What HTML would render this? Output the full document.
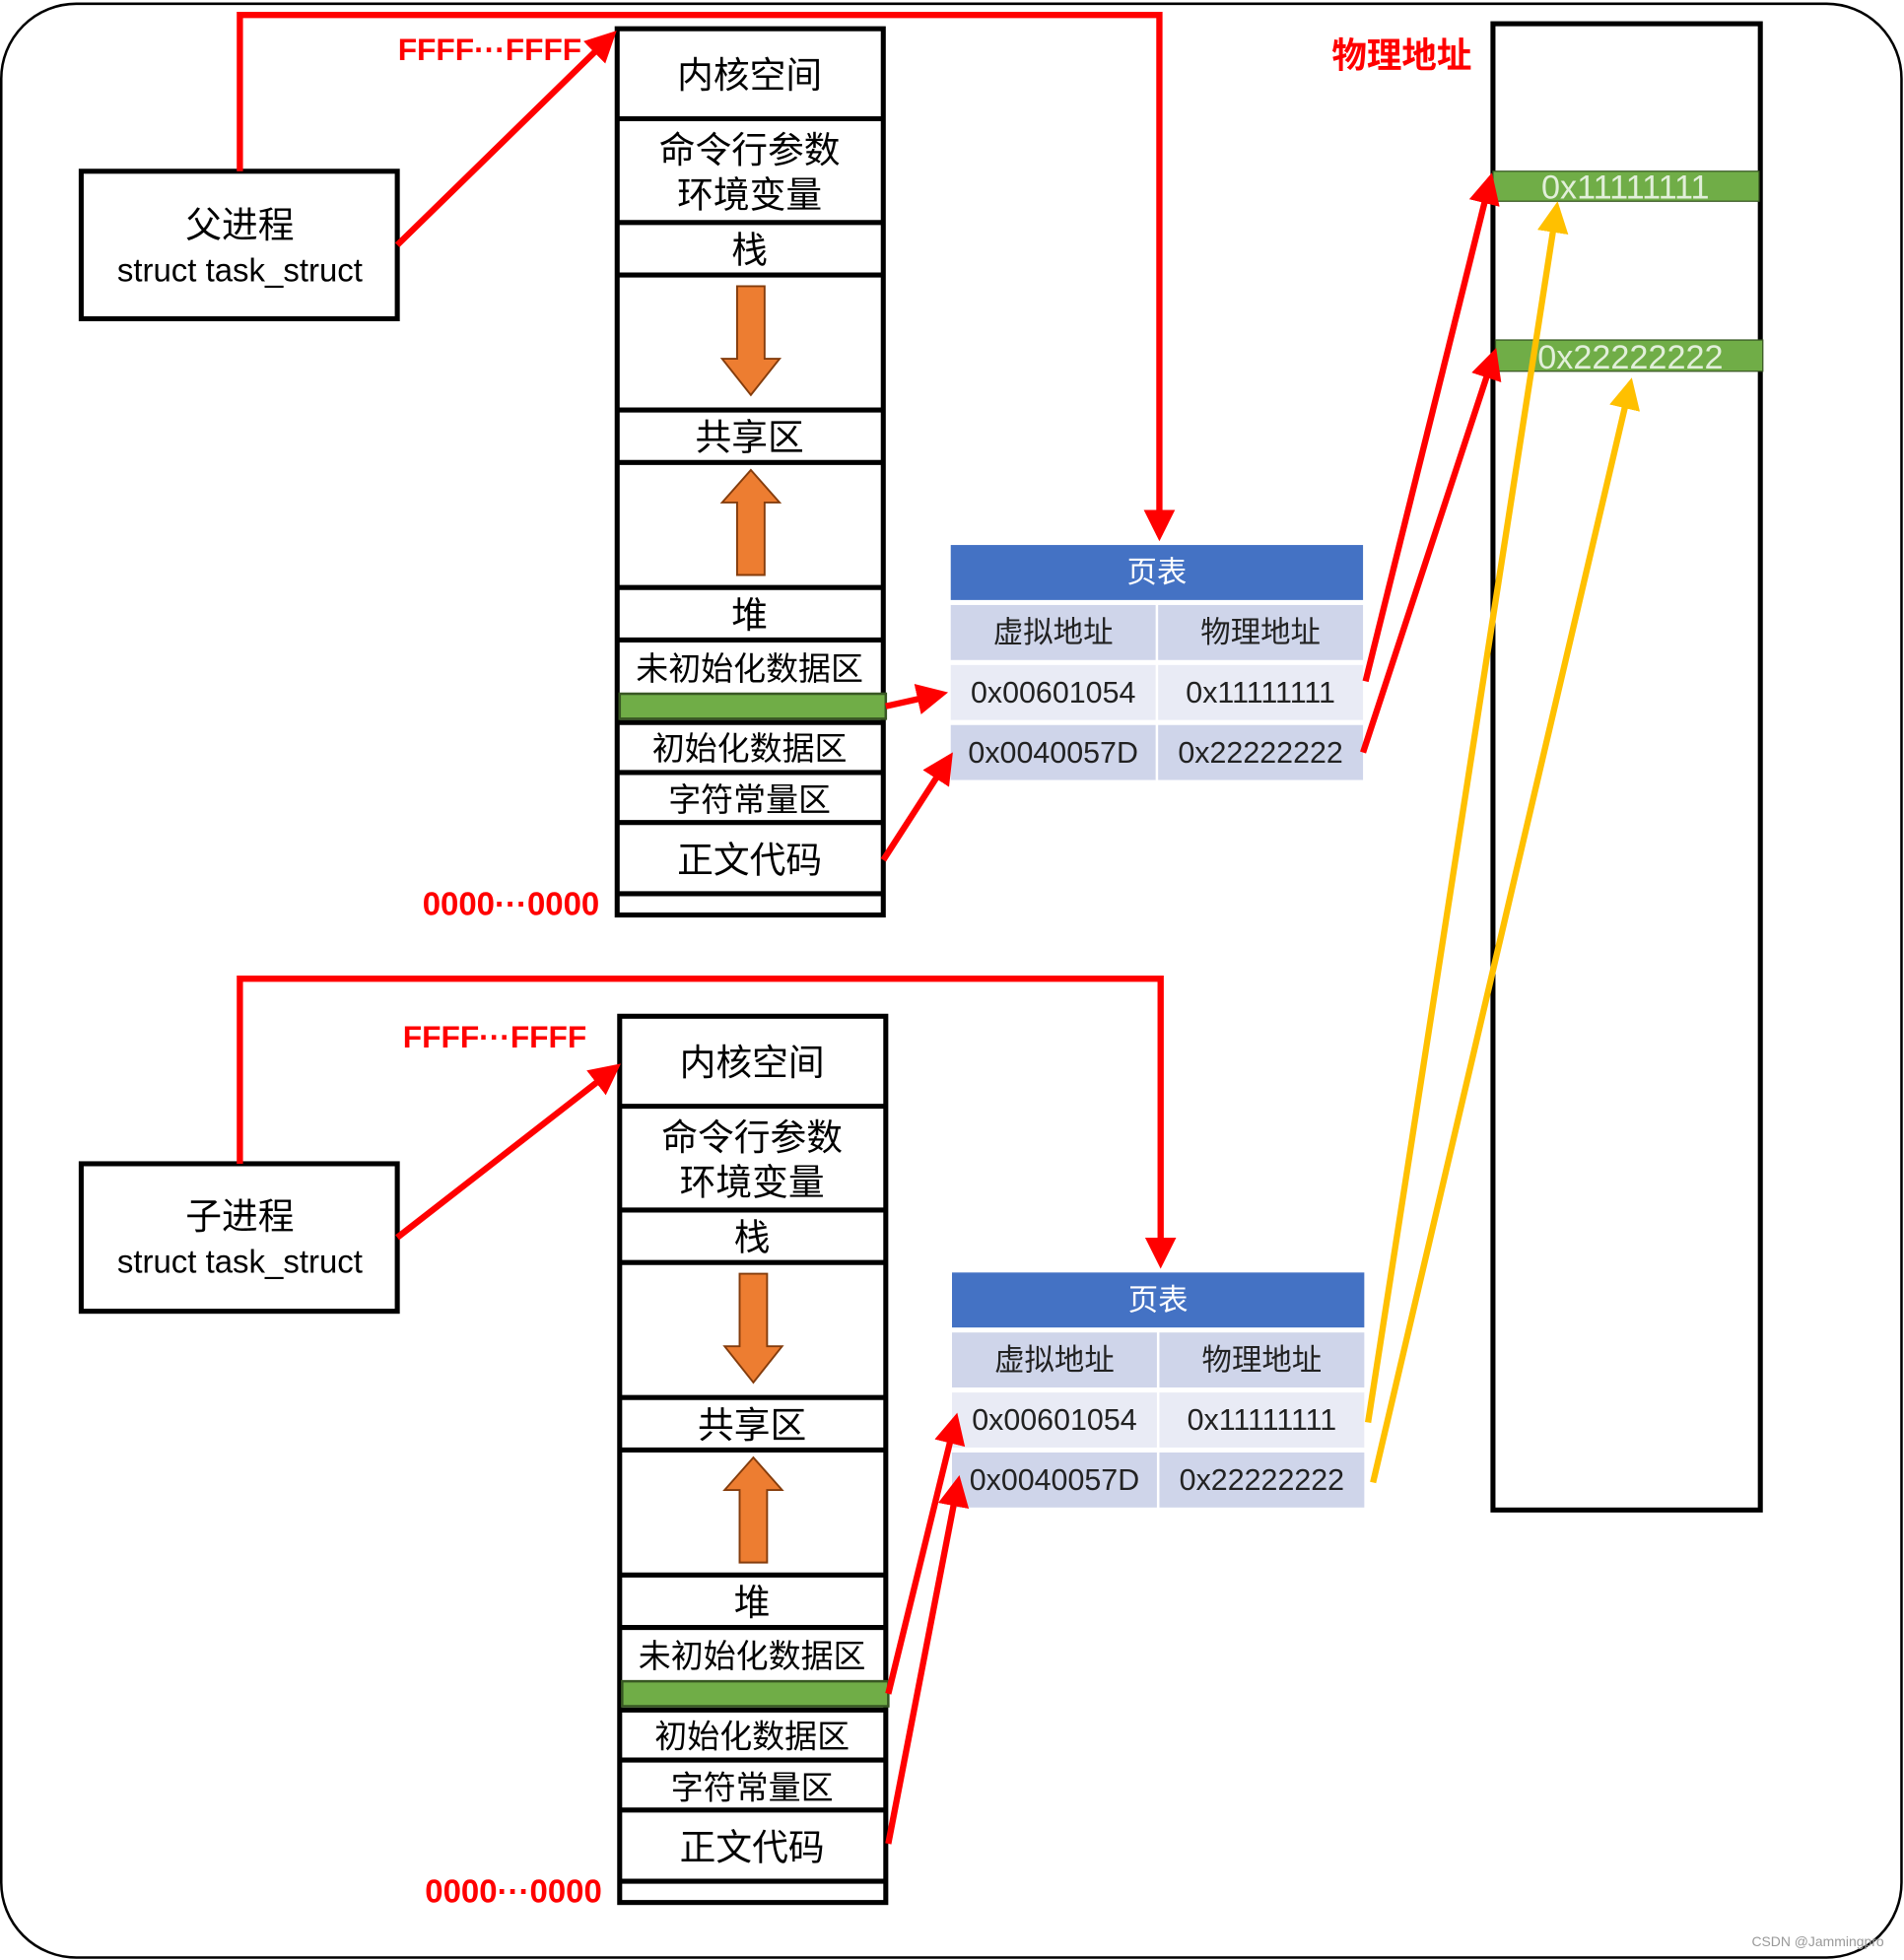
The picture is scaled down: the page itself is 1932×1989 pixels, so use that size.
<!DOCTYPE html>
<html><head><meta charset="utf-8"><style>
html,body{margin:0;padding:0;background:#fff}
svg{display:block}
text{font-family:"Liberation Sans","Noto Sans CJK SC",sans-serif}
</style></head><body>
<svg width="1932" height="1989" viewBox="0 0 1524 1568" preserveAspectRatio="none" xmlns="http://www.w3.org/2000/svg">
<defs>
<marker id="ar" markerWidth="5" markerHeight="5" refX="4" refY="2.5" orient="auto" markerUnits="strokeWidth"><path d="M0,0 L5,2.5 L0,5 z" fill="#ff0000"/></marker>
<marker id="ay" markerWidth="5" markerHeight="5" refX="4" refY="2.5" orient="auto" markerUnits="strokeWidth"><path d="M0,0 L5,2.5 L0,5 z" fill="#ffc000"/></marker>
<g id="col">
<rect x="0" y="0" width="213" height="709" fill="#fff" stroke="#000" stroke-width="4"/>
<g stroke="#000" stroke-width="4">
<line x1="0" y1="72" x2="213" y2="72"/><line x1="0" y1="155" x2="213" y2="155"/>
<line x1="0" y1="197" x2="213" y2="197"/><line x1="0" y1="305" x2="213" y2="305"/>
<line x1="0" y1="347" x2="213" y2="347"/><line x1="0" y1="447" x2="213" y2="447"/>
<line x1="0" y1="489" x2="213" y2="489"/><line x1="0" y1="555" x2="213" y2="555"/>
<line x1="0" y1="595" x2="213" y2="595"/><line x1="0" y1="635" x2="213" y2="635"/>
<line x1="0" y1="692" x2="213" y2="692"/>
</g>
<rect x="2" y="532" width="213" height="20" fill="#70ad47" stroke="#385723" stroke-width="2"/>
<g font-size="29" text-anchor="middle" fill="#000">
<text x="106" y="47">内核空间</text>
<text x="106" y="107">命令行参数</text>
<text x="106" y="143">环境变量</text>
<text x="106" y="187">栈</text>
<text x="106" y="337">共享区</text>
<text x="106" y="479">堆</text>
<text x="106" y="521" font-size="26">未初始化数据区</text>
<text x="106" y="585" font-size="26">初始化数据区</text>
<text x="106" y="626" font-size="26">字符常量区</text>
<text x="106" y="675">正文代码</text>
</g>
<path d="M96,206 h22 v58 h12 l-23,29 l-23,-29 h12 z" fill="#ed7d31" stroke="#843c0c" stroke-width="1.5"/>
<path d="M96,437 h22 v-58 h12 l-23,-26 l-23,26 h12 z" fill="#ed7d31" stroke="#843c0c" stroke-width="1.5"/>
</g>
<g id="pt">
<rect x="0" y="0" width="330" height="44" fill="#4472c4"/>
<rect x="0" y="48" width="164" height="44" fill="#cfd5ea"/><rect x="166" y="48" width="164" height="44" fill="#cfd5ea"/>
<rect x="0" y="96" width="164" height="44" fill="#e9ebf5"/><rect x="166" y="96" width="164" height="44" fill="#e9ebf5"/>
<rect x="0" y="144" width="164" height="44" fill="#cfd5ea"/><rect x="166" y="144" width="164" height="44" fill="#cfd5ea"/>
<g font-size="24" text-anchor="middle" fill="#222">
<text x="165" y="30" fill="#fff">页表</text>
<text x="82" y="78">虚拟地址</text><text x="248" y="78">物理地址</text>
<text x="82" y="126">0x00601054</text><text x="248" y="126">0x11111111</text>
<text x="82" y="174">0x0040057D</text><text x="248" y="174">0x22222222</text>
</g>
</g>
</defs>
<rect x="1" y="3" width="1521" height="1563" rx="60" fill="#fff" stroke="#000" stroke-width="2"/>

<!-- parent -->
<rect x="65" y="137" width="253" height="118" fill="#fff" stroke="#000" stroke-width="4"/>
<text x="192" y="190" font-size="29" text-anchor="middle">父进程</text>
<text x="192" y="225" font-size="26" text-anchor="middle">struct task_struct</text>
<use href="#col" x="494" y="23"/>
<text x="392" y="48" font-size="25" font-weight="bold" fill="#ff0000" text-anchor="middle">FFFF···FFFF</text>
<text x="409" y="732" font-size="26" font-weight="bold" fill="#ff0000" text-anchor="middle">0000···0000</text>
<polyline points="192,137 192,12 928,12 928,428" fill="none" stroke="#ff0000" stroke-width="5" marker-end="url(#ar)"/>
<line x1="318" y1="196" x2="490" y2="28" stroke="#ff0000" stroke-width="5" marker-end="url(#ar)"/>
<use href="#pt" x="761" y="436"/>
<line x1="709" y1="565" x2="754" y2="555" stroke="#ff0000" stroke-width="5" marker-end="url(#ar)"/>
<line x1="707" y1="688" x2="760" y2="606" stroke="#ff0000" stroke-width="5" marker-end="url(#ar)"/>

<!-- child -->
<rect x="65" y="931" width="253" height="118" fill="#fff" stroke="#000" stroke-width="4"/>
<text x="192" y="983" font-size="29" text-anchor="middle">子进程</text>
<text x="192" y="1018" font-size="26" text-anchor="middle">struct task_struct</text>
<use href="#col" x="496" y="813"/>
<text x="396" y="838" font-size="25" font-weight="bold" fill="#ff0000" text-anchor="middle">FFFF···FFFF</text>
<text x="411" y="1522" font-size="26" font-weight="bold" fill="#ff0000" text-anchor="middle">0000···0000</text>
<polyline points="192,931 192,783 929,783 929,1010" fill="none" stroke="#ff0000" stroke-width="5" marker-end="url(#ar)"/>
<line x1="318" y1="990" x2="493" y2="854" stroke="#ff0000" stroke-width="5" marker-end="url(#ar)"/>
<use href="#pt" x="762" y="1018"/>
<line x1="711" y1="1355" x2="765" y2="1135" stroke="#ff0000" stroke-width="5" marker-end="url(#ar)"/>
<line x1="711" y1="1475" x2="767" y2="1185" stroke="#ff0000" stroke-width="5" marker-end="url(#ar)"/>

<!-- physical -->
<text x="1122" y="54" font-size="28" font-weight="bold" fill="#ff0000" text-anchor="middle">物理地址</text>
<rect x="1195" y="19" width="214" height="1189" fill="#fff" stroke="#000" stroke-width="4"/>
<rect x="1195" y="137" width="213" height="24" fill="#70ad47" stroke="#385723" stroke-width="1"/>
<text x="1301" y="159" font-size="27" fill="#e2efda" text-anchor="middle">0x11111111</text>
<rect x="1197" y="272" width="214" height="25" fill="#70ad47" stroke="#385723" stroke-width="1"/>
<text x="1305" y="295" font-size="27" fill="#e2efda" text-anchor="middle">0x22222222</text>

<line x1="1093" y1="545" x2="1193" y2="143" stroke="#ff0000" stroke-width="5" marker-end="url(#ar)"/>
<line x1="1091" y1="602" x2="1196" y2="283" stroke="#ff0000" stroke-width="5" marker-end="url(#ar)"/>
<line x1="1095" y1="1138" x2="1246" y2="166" stroke="#ffc000" stroke-width="5" marker-end="url(#ay)"/>
<line x1="1099" y1="1186" x2="1305" y2="307" stroke="#ffc000" stroke-width="5" marker-end="url(#ay)"/>

<text x="1455" y="1557" font-size="11" fill="#999" text-anchor="middle">CSDN @Jammingpro</text>
</svg>
</body></html>
